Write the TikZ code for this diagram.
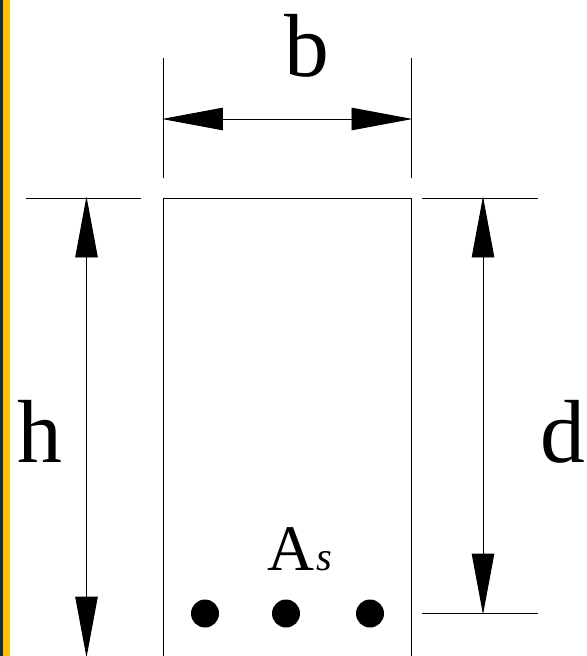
\documentclass[tikz,border=0pt]{standalone}
\usepackage{fontspec}
\setmainfont{Liberation Serif}
\usetikzlibrary{arrows.meta}
\definecolor{stripnavy}{RGB}{18,44,72}
\definecolor{stripyellow}{RGB}{255,192,0}
\tikzset{
dimtip/.tip={Triangle[length=1.22cm,width=0.45cm,sep=-0.03cm]},
dimline/.style={line width=0.55pt,dimtip-dimtip},
extline/.style={line width=0.55pt},
barnode/.style={circle,fill=black,inner sep=0pt,minimum size=0.56cm},
biglabel/.style={inner sep=0pt,anchor=base,font=\fontsize{51}{56}\selectfont}
}
\begin{document}
\begin{tikzpicture}[x=0.02cm,y=-0.02cm]
\useasboundingbox (0,0) rectangle (586,656);
\fill[stripnavy](0,0) rectangle (3,656);
\fill[stripyellow](3,0) rectangle (10,656);
%section
\draw[extline](163.5,198) rectangle (411,656);
%
\coordinate (hLa) at (26,198); \coordinate (hLb) at (141,198);
\coordinate (hMa) at (26,656); \coordinate (hMb) at (141,656);
\coordinate (dLa) at (422,198); \coordinate (dLb) at (538,198);
\coordinate (dMa) at (422,613); \coordinate (dMb) at (538,613);
\coordinate (bLa) at (163.5,58); \coordinate (bLb) at (163.5,178);
\coordinate (bMa) at (411,58); \coordinate (bMb) at (411,178);
\draw[extline](hLa)--(hLb);
\draw[extline](hMa)--(hMb);
\draw[extline](dLa)--(dLb);
\draw[extline](dMa)--(dMb);
\draw[extline](bLa)--(bLb);
\draw[extline](bMa)--(bMb);
%
\coordinate (hT) at (86.5,198); \coordinate (hB) at (86.5,656);
\coordinate (dT) at (483,198); \coordinate (dB) at (483,613);
\coordinate (bL) at (163.5,119); \coordinate (bR) at (411,119);
\draw[dimline](hT)--(hB);
\draw[dimline](dT)--(dB);
\draw[dimline](bL)--(bR);
%bars
\foreach \n/\x in {a/205,b/286,c/370}
\node[barnode](bar\n) at (\x,613.5){};
%text
\node[biglabel](lblb) at (306.5,76){b};
\node[biglabel](lblh) at (39.5,462.5){h};
\node[biglabel](lbld) at (563,462.5){d};
\node[inner sep=0pt,anchor=base west,font=\fontsize{37}{40}\selectfont](lblA) at (267,570){A\kern1pt{\fontsize{23}{25}\selectfont\itshape s}};
\end{tikzpicture}
\end{document}
